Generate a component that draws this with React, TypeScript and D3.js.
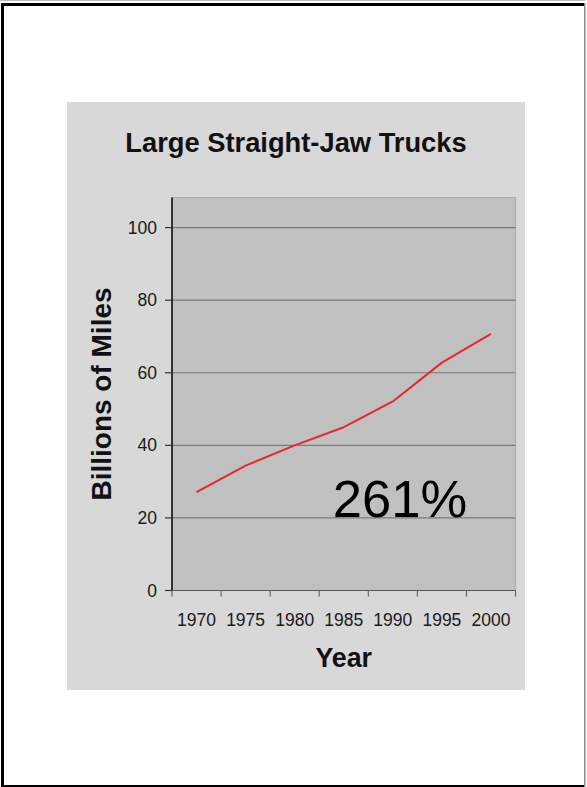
import React from "react";
import * as d3 from "d3";

// Vehicle miles travelled by large straight-jaw trucks, billions
const years = ["1970", "1975", "1980", "1985", "1990", "1995", "2000"];
const miles = [27.1, 34.4, 40.0, 45.0, 52.1, 62.8, 70.7];
const yTicks = [0, 20, 40, 60, 80, 100];
const yMax = 108.3;

const title = "Large Straight-Jaw Trucks";
const xTitle = "Year";
const yTitle = "Billions of Miles";
const growthLabel = "261%";

const W = 587;
const H = 787;
const FONT = "'Liberation Sans', Arial, Helvetica, sans-serif";

// layout
const panel = { x: 67, y: 102, w: 458, h: 588 };
const plot = { left: 172, right: 515.5, top: 197.5, bottom: 590.5 };

export default function App() {
  const x = d3
    .scaleBand<string>()
    .domain(years)
    .range([plot.left, plot.right])
    .paddingInner(0)
    .paddingOuter(0);
  const y = d3.scaleLinear().domain([0, yMax]).range([plot.bottom, plot.top]);

  const line = d3
    .line<number>()
    .x((_, i) => (x(years[i]) as number) + x.bandwidth() / 2)
    .y((d) => y(d));

  const tickEdges = years.map((yr) => x(yr) as number).concat([plot.right]);
  const midX = (plot.left + plot.right) / 2;
  const midY = (plot.top + plot.bottom) / 2;

  return (
    <svg
      width={W}
      height={H}
      viewBox={`0 0 ${W} ${H}`}
      style={{ position: "absolute", left: 0, top: 0, display: "block" }}
    >
      <rect x={0} y={0} width={W} height={H} fill="#ffffff" />

      {/* page frame */}
      <line x1={0} x2={585} y1={0.5} y2={0.5} stroke="#bbbbbb" strokeWidth={1} />
      <rect x={1} y={3} width={583} height={3} fill="#000" />
      <rect x={1} y={3} width={3} height={784} fill="#000" />
      <rect x={1} y={785} width={584} height={2} fill="#000" />
      <rect x={584} y={3} width={1.5} height={784} fill="#8a8a8a" />

      {/* chart panel */}
      <rect x={panel.x} y={panel.y} width={panel.w} height={panel.h} fill="#d8d8d8" />

      <text
        x={panel.x + panel.w / 2}
        y={152}
        textAnchor="middle"
        fontFamily={FONT}
        fontWeight="bold"
        fontSize={27.3}
        fill="#111"
      >
        {title}
      </text>

      {/* plot area */}
      <rect
        x={plot.left}
        y={plot.top}
        width={plot.right - plot.left}
        height={plot.bottom - plot.top}
        fill="#c0c0c0"
        stroke="#a9a9a9"
        strokeWidth={1}
      />

      {/* gridlines */}
      {yTicks
        .filter((t) => t > 0)
        .map((t) => (
          <line
            key={`g${t}`}
            x1={plot.left}
            x2={plot.right}
            y1={y(t)}
            y2={y(t)}
            stroke="#7a7a7a"
            strokeWidth={1.2}
          />
        ))}

      {/* x axis */}
      <line
        x1={plot.left}
        x2={plot.right}
        y1={plot.bottom}
        y2={plot.bottom}
        stroke="#555"
        strokeWidth={1.2}
      />
      {tickEdges.map((tx, i) => (
        <line
          key={`xt${i}`}
          x1={tx}
          x2={tx}
          y1={plot.bottom}
          y2={plot.bottom + 6}
          stroke="#555"
          strokeWidth={1}
        />
      ))}
      {years.map((yr) => (
        <text
          key={`xl${yr}`}
          x={(x(yr) as number) + x.bandwidth() / 2}
          y={626}
          textAnchor="middle"
          fontFamily={FONT}
          fontSize={17.5}
          fill="#1a1a1a"
        >
          {yr}
        </text>
      ))}
      <text
        x={midX}
        y={667}
        textAnchor="middle"
        fontFamily={FONT}
        fontWeight="bold"
        fontSize={26.8}
        fill="#111"
      >
        {xTitle}
      </text>

      {/* y axis */}
      <line
        x1={plot.left}
        x2={plot.left}
        y1={plot.top}
        y2={plot.bottom}
        stroke="#111"
        strokeWidth={1.6}
      />
      {yTicks.map((t) => (
        <g key={`yt${t}`}>
          <line
            x1={plot.left - 7}
            x2={plot.left}
            y1={y(t)}
            y2={y(t)}
            stroke="#333"
            strokeWidth={1.2}
          />
          <text
            x={157}
            y={y(t) + 6}
            textAnchor="end"
            fontFamily={FONT}
            fontSize={17.5}
            fill="#1a1a1a"
          >
            {t}
          </text>
        </g>
      ))}
      <text
        transform={`translate(111, ${midY}) rotate(-90)`}
        textAnchor="middle"
        fontFamily={FONT}
        fontWeight="bold"
        fontSize={28}
        fill="#111"
      >
        {yTitle}
      </text>

      {/* series */}
      <path
        d={line(miles) as string}
        fill="none"
        stroke="#e8262b"
        strokeWidth={2}
        strokeLinejoin="round"
      />

      <text
        x={400}
        y={517}
        textAnchor="middle"
        fontFamily={FONT}
        fontSize={52.5}
        fill="#000"
      >
        {growthLabel}
      </text>
    </svg>
  );
}
